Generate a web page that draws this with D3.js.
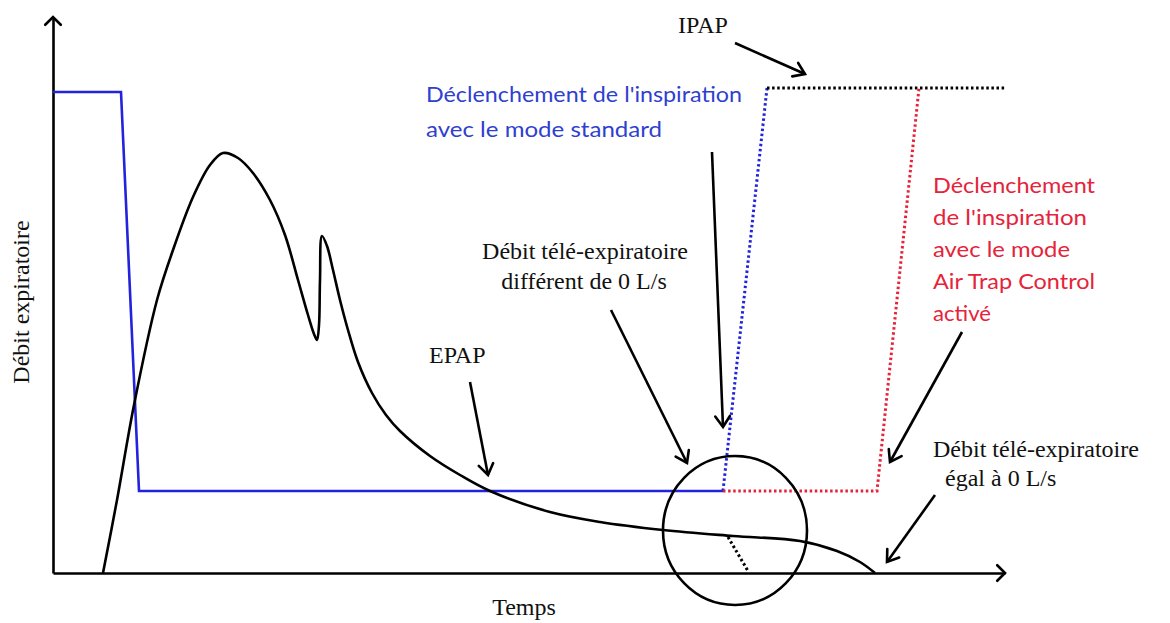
<!DOCTYPE html>
<html>
<head>
<meta charset="utf-8">
<script src="https://cdn.jsdelivr.net/npm/d3@7"></script>
<style>
  html, body { margin: 0; padding: 0; background: #fff; }
  svg { display: block; }
</style>
</head>
<body>
<svg id="chart" width="1170" height="623"></svg>
<script>
// ---- Data (time in arbitrary units, flow/pressure in arbitrary units) ----
const flowTime  = [0.50, 0.64, 0.81, 1.04, 1.20, 1.40, 1.57, 1.70, 1.85, 2.00, 2.17, 2.32, 2.45, 2.55, 2.61, 2.64, 2.66, 2.67, 2.69, 2.74, 2.80, 2.87, 2.95, 3.05, 3.19, 3.33, 3.47, 3.77, 4.07, 4.37, 4.97, 5.47, 6.10, 6.80, 7.47, 7.84, 8.07, 8.22];
const flowValue = [0.00, 0.73, 1.68, 2.73, 3.23, 3.76, 4.08, 4.20, 4.15, 4.00, 3.73, 3.38, 2.93, 2.58, 2.39, 2.33, 2.48, 2.93, 3.37, 3.27, 3.03, 2.73, 2.43, 2.11, 1.80, 1.58, 1.42, 1.17, 0.98, 0.82, 0.61, 0.51, 0.43, 0.37, 0.32, 0.22, 0.11, 0.00];

const pressureTime  = [0, 0.68, 0.86, 6.70];
const pressureValue = [4.81, 4.81, 0.82, 0.82];

const standardTriggerTime  = [6.70, 7.14];
const standardTriggerValue = [0.82, 4.85];

const ipapTime  = [7.14, 9.52];
const ipapValue = [4.85, 4.85];

const atcTriggerTime  = [6.70, 8.24, 8.66];
const atcTriggerValue = [0.82, 0.82, 4.85];

const extrapolationTime  = [6.75, 6.95];
const extrapolationValue = [0.36, 0.02];

const xDomain = [0, 9.52];
const yDomain = [0, 5.56];

const xLabel = "Temps";
const yLabel = "Débit expiratoire";

// ---- Layout ----
const svg = d3.select("#chart");
const x = d3.scaleLinear().domain(xDomain).range([53, 1005]);
const y = d3.scaleLinear().domain(yDomain).range([573, 17]);

const BLACK = "#000";
const BLUE = "#2323dc";
const BLUE_TEXT = "#2f3fd0";
const RED = "#e5233a";
const SERIF = "'Liberation Serif', 'Times New Roman', serif";
const SANS = "Lato, 'Open Sans', sans-serif";

const zip = (a, b) => a.map((v, i) => [v, b[i]]);
const lineGen = d3.line().x(d => x(d[0])).y(d => y(d[1]));

// Axes (no ticks)
const xAxis = d3.axisBottom(x).tickValues([]).tickSizeOuter(0);
const yAxis = d3.axisLeft(y).tickValues([]).tickSizeOuter(0);
svg.append("g").attr("transform", `translate(0,${y(0)})`).call(xAxis)
  .select(".domain").attr("stroke", BLACK).attr("stroke-width", 2.6);
svg.append("g").attr("transform", `translate(${x(0)},0)`).call(yAxis)
  .select(".domain").attr("stroke", BLACK).attr("stroke-width", 2.6);

function chevron(tipX, tipY, angle, len, half, width) {
  const a1 = angle + Math.PI - half, a2 = angle + Math.PI + half;
  svg.append("path")
    .attr("d", `M${tipX + len * Math.cos(a1)},${tipY + len * Math.sin(a1)}L${tipX},${tipY}L${tipX + len * Math.cos(a2)},${tipY + len * Math.sin(a2)}`)
    .attr("fill", "none").attr("stroke", BLACK).attr("stroke-width", width)
    .attr("stroke-linecap", "round").attr("stroke-linejoin", "miter");
}
// axis arrowheads
chevron(x(xDomain[1]), y(0), 0, 11, Math.PI / 4, 2.6);
chevron(x(0), y(yDomain[1]), -Math.PI / 2, 11, Math.PI / 4, 2.6);

// Pressure (solid blue)
svg.append("path").datum(zip(pressureTime, pressureValue))
  .attr("d", lineGen).attr("fill", "none").attr("stroke", BLUE).attr("stroke-width", 2.6)
  .attr("stroke-linejoin", "miter");

// Dotted lines
function dotted(data, color) {
  svg.append("path").datum(data).attr("d", lineGen)
    .attr("fill", "none").attr("stroke", color).attr("stroke-width", 3)
    .attr("stroke-dasharray", "2.5,2.6");
}
dotted(zip(standardTriggerTime, standardTriggerValue), BLUE);
dotted(zip(ipapTime, ipapValue), BLACK);
dotted(zip(atcTriggerTime, atcTriggerValue), RED);
dotted(zip(extrapolationTime, extrapolationValue), BLACK);

// Flow curve
svg.append("path").datum(zip(flowTime, flowValue))
  .attr("d", d3.line().x(d => x(d[0])).y(d => y(d[1])).curve(d3.curveCatmullRom.alpha(0.5)))
  .attr("fill", "none").attr("stroke", BLACK).attr("stroke-width", 2.6);

// Circle highlighting end-expiratory flow
const circleCenter = [6.82, 0.425];
svg.append("ellipse")
  .attr("cx", x(circleCenter[0])).attr("cy", y(circleCenter[1]))
  .attr("rx", x(0.72) - x(0)).attr("ry", y(0) - y(0.745))
  .attr("fill", "none").attr("stroke", BLACK).attr("stroke-width", 2.6);

// ---- Annotations ----
function arrow(x1, y1, x2, y2) {
  svg.append("line").attr("x1", x1).attr("y1", y1).attr("x2", x2).attr("y2", y2)
    .attr("stroke", BLACK).attr("stroke-width", 2.6);
  chevron(x2, y2, Math.atan2(y2 - y1, x2 - x1), 13, 0.6, 2.6);
}
arrow(735, 43, 805, 74);    // IPAP
arrow(712, 152, 723, 427);  // standard trigger
arrow(611, 310, 687, 463);  // non-zero end flow
arrow(470, 382, 488, 475);  // EPAP
arrow(962, 332, 890, 462);  // ATC trigger
arrow(935, 495, 887, 562);  // zero end flow

function text(str, tx, ty, opts = {}) {
  const t = svg.append("text").attr("x", tx).attr("y", ty).text(str)
    .attr("font-family", opts.family || SERIF)
    .attr("font-size", opts.size || 24)
    .attr("fill", opts.color || "#111")
    .attr("text-anchor", opts.anchor || "start");
  if (opts.len) t.attr("textLength", opts.len).attr("lengthAdjust", "spacingAndGlyphs");
  return t;
}

text("IPAP", 678, 33);
text("EPAP", 429, 363);
text("Débit télé-expiratoire", 585, 259, { anchor: "middle" });
text("différent de 0 L/s", 584, 289, { anchor: "middle" });
text("Débit télé-expiratoire", 933, 457);
text("égal à 0 L/s", 945, 486);

const blueLines = ["Déclenchement de l'inspiration", "avec le mode standard"];
const blueLens = [316, 236];
blueLines.forEach((s, i) => text(s, 426, 102 + i * 35, { family: SANS, size: 22, color: BLUE_TEXT, len: blueLens[i] }));

const redLines = ["Déclenchement", "de l'inspiration", "avec le mode", "Air Trap Control", "activé"];
const redLens = [162, 154, 137, 162, 58];
redLines.forEach((s, i) => text(s, 933, 193 + i * 32, { family: SANS, size: 22, color: RED, len: redLens[i] }));

// Axis labels
text(xLabel, 524, 615, { anchor: "middle" });
svg.append("text")
  .attr("transform", `translate(29,${302}) rotate(-90)`)
  .attr("text-anchor", "middle")
  .attr("font-family", SERIF).attr("font-size", 24).attr("fill", "#111")
  .text(yLabel);
</script>
</body>
</html>
